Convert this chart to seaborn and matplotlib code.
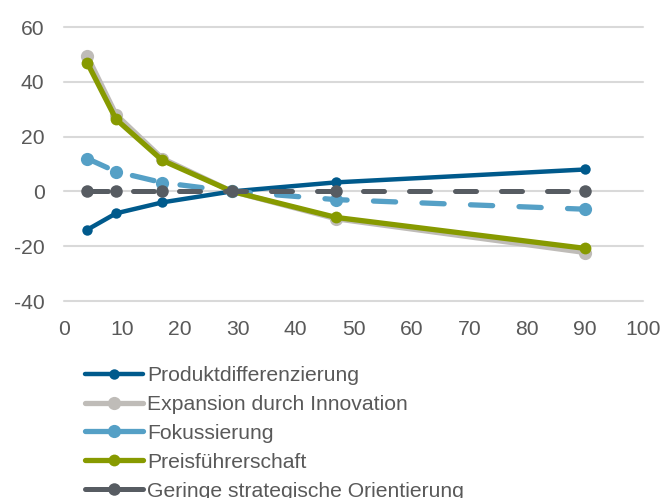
import matplotlib
matplotlib.use("Agg")
import matplotlib.pyplot as plt
import seaborn as sns
import pandas as pd

# Data
x_values = [4, 9, 17, 29, 47, 90]
produktdifferenzierung = [-14, -8, -4, 0, 3.3, 8]
expansion_innovation = [49.5, 28, 12, 0, -10, -22.3]
fokussierung = [12, 7.2, 3.2, 0, -3, -6.5]
preisfuehrerschaft = [47, 26.3, 11.3, 0, -9.5, -20.8]
geringe_orientierung = [0, 0, 0, 0, 0, 0]

series_names = [
    "Produktdifferenzierung",
    "Expansion durch Innovation",
    "Fokussierung",
    "Preisführerschaft",
    "Geringe strategische Orientierung",
]
series_values = [
    produktdifferenzierung,
    expansion_innovation,
    fokussierung,
    preisfuehrerschaft,
    geringe_orientierung,
]
x_ticks = list(range(0, 101, 10))
y_ticks = list(range(-40, 61, 20))

# Styling
colors = ["#005A8C", "#BFBCB8", "#55A0C6", "#879A00", "#575C62"]
line_widths = [3.2, 3.8, 3.8, 3.8, 3.6]
marker_sizes = [7.5, 9.5, 9.5, 8.5, 9.0]
dashed = [False, False, True, False, True]

sns.set_theme(style="white")
plt.rcParams["font.family"] = ["Liberation Sans", "DejaVu Sans"]
plt.rcParams["axes.unicode_minus"] = False

fig = plt.figure(figsize=(6.62, 4.98), dpi=100)
ax = fig.add_axes([64 / 662, 1 - 301 / 498, (643 - 64) / 662, (301 - 27) / 498])

for name, vals, c, lw, ms in zip(series_names, series_values, colors,
                                 line_widths, marker_sizes):
    df = pd.DataFrame({"x": x_values, "y": vals})
    sns.lineplot(data=df, x="x", y="y", ax=ax, color=c, linewidth=lw,
                 marker="o", markersize=ms, markeredgewidth=0,
                 label=name, solid_capstyle="round", dash_capstyle="round")

ax.set_xlim(0, 100)
ax.set_ylim(-40, 60)
ax.set_xticks(x_ticks)
ax.set_yticks(y_ticks)
ax.set_xlabel("")
ax.set_ylabel("")
ax.grid(axis="y", color="#D9D9D9", linewidth=1.5)
ax.grid(axis="x", visible=False)
ax.set_axisbelow(True)
for s in ax.spines.values():
    s.set_visible(False)
ax.tick_params(axis="both", length=0, labelsize=15.2, colors="#595959")
ax.tick_params(axis="y", pad=14)
ax.tick_params(axis="x", pad=14)
for g in ax.get_ygridlines():
    g.set_clip_on(False)

# Legend with solid sample lines, built before the dashes are applied
handles, labels = ax.get_legend_handles_labels()
ax.get_legend().remove()
leg = fig.legend(handles, labels, loc="upper left",
                 bbox_to_anchor=(85 / 662, 1 - 366 / 498),
                 frameon=False, fontsize=15.2, labelcolor="#595959",
                 handlelength=2.75, handletextpad=0.2, labelspacing=0.47,
                 borderpad=0, borderaxespad=0)

for line, dsh in zip(handles, dashed):
    if dsh:
        line.set_dashes((4.2, 5.0))

fig.savefig("out.png", dpi=100)
